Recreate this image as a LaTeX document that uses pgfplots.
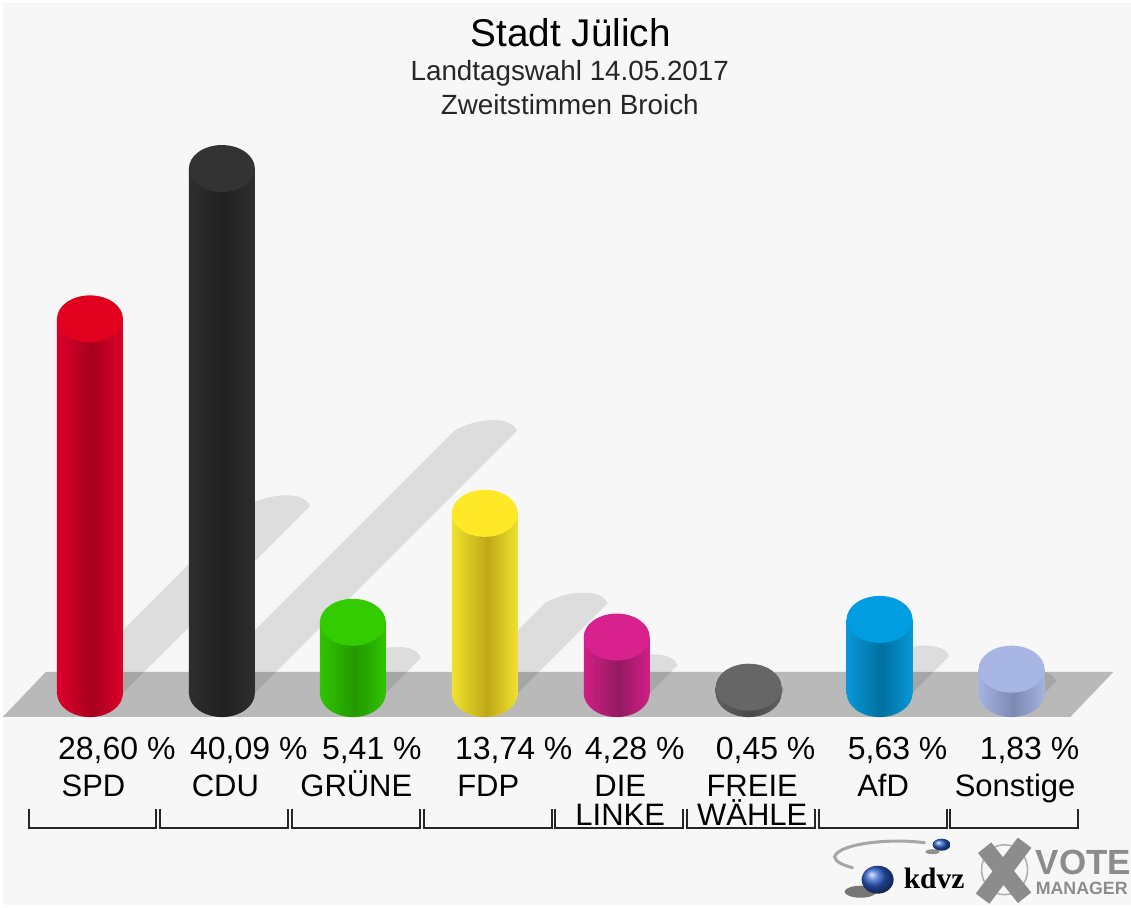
\documentclass[border=0pt]{standalone}
\usepackage{pgfplots}
\pgfplotsset{compat=1.18}
\usepackage{fontspec}
\setmainfont{Liberation Sans}
\newfontfamily\serifb{Liberation Serif}
\definecolor{bgc}{HTML}{F7F7F7}
\definecolor{floorc}{HTML}{B9B9B9}
\definecolor{logog}{HTML}{8C8C8C}
\definecolor{logob}{HTML}{2A5CC8}
% name, cap, edge-left, dark, edge-right
\newcommand\defcyl[5]{%
  \definecolor{cap#1}{HTML}{#2}\definecolor{el#1}{HTML}{#3}\definecolor{dk#1}{HTML}{#4}\definecolor{er#1}{HTML}{#5}%
  \pgfdeclarehorizontalshading{sh#1}{100bp}{color(0bp)=(el#1);color(25bp)=(el#1);color(51.5bp)=(dk#1);color(75bp)=(er#1);color(100bp)=(er#1)}%
  \pgfdeclareplotmark{base#1}{\pgfpathellipse{\pgfpointorigin}{\pgfqpoint{33pt}{0pt}}{\pgfqpoint{0pt}{24pt}}\pgfshadepath{sh#1}{0}\pgfusepath{discard}}%
}
\defcyl{a}{E2001F}{DC0028}{A6001E}{DC0028}
\defcyl{b}{333333}{2E2E2E}{202020}{2E2E2E}
\defcyl{c}{33CC00}{30C400}{229900}{30C400}
\defcyl{d}{FFE926}{F0E22E}{BFA818}{F0E22E}
\defcyl{e}{D8218C}{D01F85}{941A62}{D01F85}
\defcyl{f}{666666}{606060}{484848}{606060}
\defcyl{g}{009EE0}{0898D8}{006F9F}{0898D8}
\defcyl{h}{A8B6E4}{A5B3DF}{7C89B3}{A5B3DF}
\pgfdeclareplotmark{captop}{\pgfpathellipse{\pgfpointorigin}{\pgfqpoint{33pt}{0pt}}{\pgfqpoint{0pt}{23.5pt}}\pgfusepathqfill}
% one cylinder: key, x, value
\newcommand\cyl[3]{%
  \addplot[only marks,mark=base#1] coordinates {(#2,0)};
  \addplot[ybar,bar shift=0pt,bar width=66,draw=none,shade,shading=sh#1] coordinates {(#2,#3)};
  \addplot[only marks,mark=captop,mark options={fill=cap#1,draw=none}] coordinates {(#2,#3)};
}
% shadow: x, half of the height in px
\newcommand\shadowband[2]{\fill[black,opacity=.1] (axis cs:#1,0) ++(-30pt,0pt) -- ++(#2pt,#2pt) .. controls +(15pt,10pt) and +(-8pt,18pt) .. ++(63pt,0pt) -- ++(-#2pt,-#2pt) -- cycle;}
\newcommand\vlab[2]{\node[anchor=base west,inner sep=0pt,font=\fontsize{32}{32}\selectfont] at (axis cs:#1,-5.08) {#2};}
\begin{document}
\begin{tikzpicture}
\fill[white] (0pt,0pt) rectangle (1131pt,905pt);
\fill[bgc] (3pt,0pt) rectangle (1131pt,902pt);
\begin{axis}[
  at={(0,0)},anchor=south west,
  scale only axis,width=1131pt,height=905pt,
  xmin=0,xmax=1131,ymin=-16.173,ymax=52.964,
  axis line style={draw=none},
  ytick=\empty,
  xtick={90,222,353,485,617,749,880,1012},
  xticklabels={{\rule{0pt}{30pt}SPD},{\rule{0pt}{30pt}CDU},{\rule{0pt}{30pt}GRÜNE},{\rule{0pt}{30pt}FDP},{\rule{0pt}{30pt}DIE\\LINKE},{\rule{0pt}{30pt}FREIE\\WÄHLE},{\rule{0pt}{30pt}AfD},{\rule{0pt}{30pt}Sonstige}},
  major tick length=0pt,
  xticklabel style={anchor=north,inner sep=0pt,outer sep=0pt,align=center,yshift=138pt,xshift=3.5pt,
    font=\fontsize{31}{29}\selectfont},
  clip=false,
]
\addplot[draw=none,fill=floorc] coordinates {(3,-1.811)(1071,-1.811)(1114,1.627)(46,1.627)} -- cycle;
\shadowband{90}{187.2}
\shadowband{222}{262.4}
\shadowband{353}{35.4}
\shadowband{485}{89.9}
\shadowband{617}{28.0}
\shadowband{749}{2.9}
\shadowband{880}{36.8}
\shadowband{1012}{12.0}
\cyl{a}{90}{28.60}
\cyl{b}{222}{40.09}
\cyl{c}{353}{5.41}
\cyl{d}{485}{13.74}
\cyl{e}{617}{4.28}
\cyl{f}{749}{0.45}
\cyl{g}{880}{5.63}
\cyl{h}{1012}{1.83}
\vlab{58}{28,60 \%}
\vlab{190}{40,09 \%}
\vlab{322}{5,41 \%}
\vlab{455}{13,74 \%}
\vlab{585}{4,28 \%}
\vlab{716}{0,45 \%}
\vlab{848}{5,63 \%}
\vlab{980}{1,83 \%}
\end{axis}
\begin{scope}[shift={(0pt,905pt)},x=1pt,y=-1pt]
\node[anchor=base,inner sep=0pt,font=\fontsize{38.7}{40}\selectfont] at (571,46) {Stadt Jülich};
\node[anchor=base,inner sep=0pt,font=\fontsize{27.8}{30}\selectfont,text=black!85] at (570,80) {Landtagswahl 14.05.2017};
\node[anchor=base,inner sep=0pt,font=\fontsize{27.8}{30}\selectfont,text=black!85] at (570,114) {Zweitstimmen Broich};
\foreach \a/\b in {29/156,160.5/288,292/420,424/552,555/683,687/815,819/947,950/1078}
  \draw[line width=2pt,black!85,line join=miter] (\a,809) -- (\a,828) -- (\b,828) -- (\b,809);
% kdvz logo
\draw[line width=3pt,black!35,line cap=round] (925,843) .. controls (885,838) and (838,845) .. (835,857) .. controls (835,862) and (845,866) .. (853,868);
\fill[black!70,opacity=.6] (933,852) ellipse (7 and 2.5);
\shade[ball color=logob] (942,845) ellipse (9 and 6);
\fill[black!75,opacity=.7] (861,892) ellipse (16 and 6);
\shade[ball color=logob] (878,880) ellipse (16 and 14);
\node[anchor=base west,inner sep=0pt,font=\serifb\bfseries\fontsize{29.5}{30}\selectfont] at (904,889) {kdvz};
% Vote Manager logo
\draw[line width=1.5pt,logog!70] (1005,870) ellipse (23 and 25);
\draw[line width=17pt,logog] (985,848) -- (1025,898);
\draw[line width=17pt,logog] (1025,843) -- (983,899);
\node[anchor=base west,inner sep=0pt,text=logog,font=\bfseries\fontsize{35}{35}\selectfont] at (1036,875) {VOTE};
\node[anchor=base west,inner sep=0pt,text=logog,font=\bfseries\fontsize{17.8}{18}\selectfont] at (1036,895) {MANAGER};
\end{scope}
\end{tikzpicture}
\end{document}
